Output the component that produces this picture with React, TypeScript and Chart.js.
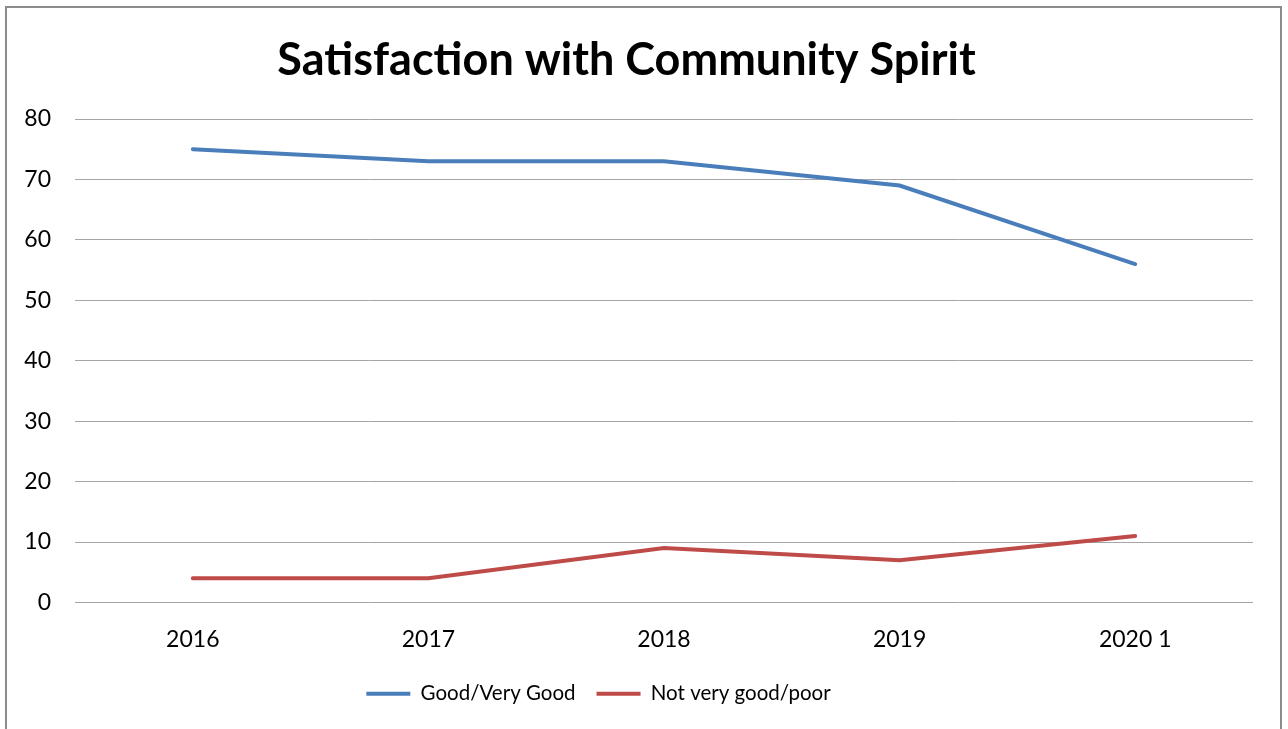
import React, { useEffect, useRef } from "react";
import { Chart, registerables } from "chart.js";

Chart.register(...registerables);

const categories = ["2016", "2017", "2018", "2019", "2020 1"];
const goodValues = [75, 73, 73, 69, 56];
const poorValues = [4, 4, 9, 7, 11];
const yTicks = [0, 10, 20, 30, 40, 50, 60, 70, 80];
const seriesNames = ["Good/Very Good", "Not very good/poor"];
const titleText = "Satisfaction with Community Spirit";

const FONT = "Lato, 'Open Sans', sans-serif";

const legendShift = {
  id: "legendShift",
  afterLayout(chart: any) {
    const l = chart.legend;
    if (l) {
      l.left -= 28;
      l.right -= 28;
    }
  },
};

export default function App() {
  const canvasRef = useRef<HTMLCanvasElement | null>(null);

  useEffect(() => {
    const canvas = canvasRef.current;
    if (!canvas) return;
    const chart = new Chart(canvas, {
      type: "line",
      data: {
        labels: categories,
        datasets: [
          {
            label: seriesNames[0],
            data: goodValues,
            borderColor: "#4a7ebb",
            backgroundColor: "#4a7ebb",
            borderWidth: 4,
            pointRadius: 0,
            tension: 0,
            borderCapStyle: "round",
          },
          {
            label: seriesNames[1],
            data: poorValues,
            borderColor: "#be4b48",
            backgroundColor: "#be4b48",
            borderWidth: 4,
            pointRadius: 0,
            tension: 0,
            borderCapStyle: "round",
          },
        ],
      },
      options: {
        animation: false,
        responsive: false,
        maintainAspectRatio: false,
        layout: { padding: { left: 0, right: 35, top: 0, bottom: 15 } },
        plugins: {
          title: {
            display: true,
            text: titleText,
            color: "#000",
            font: { family: FONT, size: 45, weight: "bold" },
            padding: { top: 33, bottom: 32 },
          },
          legend: {
            display: true,
            position: "bottom",
            labels: {
              usePointStyle: true,
              pointStyle: "line",
              pointStyleWidth: 44,
              color: "#000",
              font: { family: FONT, size: 20.5 },
              padding: 21,
            },
          },
          tooltip: { enabled: false },
        },
        scales: {
          x: {
            offset: true,
            grid: { display: false, drawTicks: false },
            border: { display: false },
            ticks: {
              color: "#000",
              font: { family: FONT, size: 23 },
              padding: 23,
              maxRotation: 0,
            },
            afterFit: (scale: any) => {
              scale.height = 60;
            },
          },
          y: {
            min: 0,
            max: 80,
            afterBuildTicks: (scale: any) => {
              scale.ticks = yTicks.map((v) => ({ value: v }));
            },
            grid: { color: "#a6a6a6", lineWidth: 1, drawTicks: false },
            border: { display: false },
            ticks: {
              color: "#000",
              font: { family: FONT, size: 23 },
              padding: 24,
            },
            afterFit: (scale: any) => {
              scale.width = 75;
            },
          },
        },
      },
      plugins: [legendShift],
    });
    return () => chart.destroy();
  }, []);

  return (
    <div
      style={{
        position: "fixed",
        left: 0,
        top: 0,
        width: 1288,
        height: 729,
        overflow: "hidden",
        background: "#fff",
      }}
    >
      <canvas
        ref={canvasRef}
        width={1288}
        height={729}
        style={{ position: "absolute", left: 0, top: 0, width: 1288, height: 729 }}
      />
      <div
        style={{
          position: "absolute",
          left: 5,
          top: 6,
          width: 1273,
          height: 800,
          border: "2px solid #8c8c8c",
          pointerEvents: "none",
        }}
      />
    </div>
  );
}
